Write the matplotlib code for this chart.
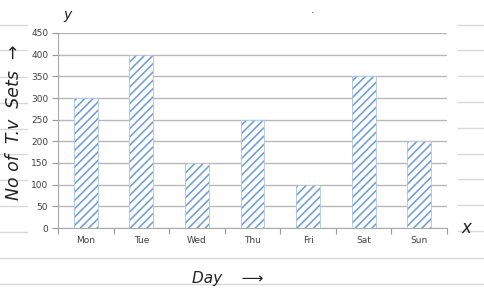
import matplotlib.pyplot as plt
from matplotlib.lines import Line2D

days = ["Mon", "Tue", "Wed", "Thu", "Fri", "Sat", "Sun"]
tv_sets = [300, 400, 150, 250, 100, 350, 200]
y_ticks = list(range(0, 451, 50))

W, H = 484, 289
fig = plt.figure(figsize=(W / 100, H / 100), dpi=100)
plt.rcParams['hatch.linewidth'] = 1.1


def fx(px):
    return px / W


def fy(py):
    return 1 - py / H


# notebook ruling in the background
line_col = '#d9d9d9'
for yy in [25, 50, 77, 103, 129, 154, 180, 206, 232]:
    fig.add_artist(Line2D([fx(0), fx(27)], [fy(yy), fy(yy)], color=line_col, lw=1))
for yy in [25, 50, 76, 102, 128, 154, 179, 205, 231]:
    fig.add_artist(Line2D([fx(458), fx(484)], [fy(yy), fy(yy)], color=line_col, lw=1))
for yy in [258, 284]:
    fig.add_artist(Line2D([0, 1], [fy(yy), fy(yy)], color=line_col, lw=1))

ax = fig.add_axes([fx(58), fy(228), fx(447) - fx(58), fy(33) - fy(228)])
x = range(len(days))
# hatched fill (hatch takes the edge colour), then a light outline on top
ax.bar(x, tv_sets, width=0.43, color='white', edgecolor='#6a9ade',
       hatch='////', linewidth=0, zorder=3)
ax.bar(x, tv_sets, width=0.43, fill=False, edgecolor='#a9c4ea',
       linewidth=0.6, zorder=4)

ax.set_xlim(-0.5, len(days) - 0.5)
ax.set_ylim(0, 450)
ax.set_yticks(y_ticks)
ax.set_xticks(list(x))
ax.set_xticklabels(days)
ax.set_xticks([i + 0.5 for i in range(-1, len(days))], minor=True)
ax.tick_params(axis='x', which='major', length=0, pad=6, labelsize=6.5, labelcolor='#404040')
ax.tick_params(axis='x', which='minor', length=4, color='#999999', width=0.8)
ax.tick_params(axis='y', length=4, color='#999999', width=0.8, labelsize=6.5,
               labelcolor='#404040', pad=3)
ax.yaxis.grid(True, color='#b8b8b8', lw=1)
ax.set_axisbelow(True)
for s in ['top', 'right']:
    ax.spines[s].set_visible(False)
ax.spines['left'].set_color('#aaaaaa')
ax.spines['bottom'].set_color('#aaaaaa')

# handwritten annotations
hand = dict(family='DejaVu Sans', style='italic', color='#222222', fontweight='light')
fig.text(fx(67), fy(15), "y", fontsize=10, ha='center', va='center', **hand)
fig.text(fx(466), fy(228), "x", fontsize=12, ha='center', va='center', **hand)
fig.text(fx(14), fy(122), "No of  T.v  Sets  \u2192", fontsize=12.5, rotation=90,
         ha='center', va='center', **hand)
fig.text(fx(192), fy(278), "Day    \u27f6", fontsize=11, ha='left', va='center', **hand)
fig.text(fx(313), fy(10), ".", fontsize=8, ha='center', va='center', color='#444444')

fig.savefig("out.png", dpi=100)
